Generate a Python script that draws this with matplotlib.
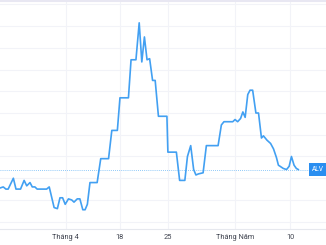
import matplotlib.pyplot as plt
import matplotlib.transforms as mtransforms
from matplotlib.lines import Line2D

# session position (0-100 across the chart) and price
t = [0, 1.0, 1.8, 2.5, 3.3, 4.1, 4.9, 6.3, 7.4, 8.2, 9.2, 9.9, 10.7, 11.4, 14.3, 15.1,
     16.6, 17.6, 18.4, 19.2, 20.0, 21.0, 22.0, 22.7, 23.7, 24.5, 25.4, 26.1, 26.8, 27.6,
     29.8, 30.9, 33.3, 34.3, 36.0, 36.8, 39.4, 40.2, 41.7, 42.7, 43.5, 44.3, 45.1, 45.9,
     46.8, 47.6, 48.6, 51.2, 51.5, 54.1, 55.1, 56.7, 57.5, 58.5, 59.4, 60.1, 60.9, 62.3,
     63.3, 66.9, 67.9, 68.7, 71.4, 72.1, 72.9, 73.8, 74.5, 75.2, 76.0, 76.7, 77.5, 78.5,
     79.3, 80.2, 80.8, 81.9, 83.0, 83.9, 84.8, 85.4, 86.9, 87.9, 88.7, 89.4, 90.2, 90.9, 91.5]
price = [3.31, 3.32, 3.30, 3.30, 3.35, 3.40, 3.30, 3.30, 3.38, 3.33, 3.36, 3.32, 3.32, 3.30, 3.30, 3.32,
         3.13, 3.12, 3.22, 3.22, 3.16, 3.21, 3.20, 3.18, 3.21, 3.21, 3.11, 3.11, 3.16, 3.36,
         3.36, 3.58, 3.58, 3.84, 3.84, 4.14, 4.14, 4.49, 4.49, 4.83, 4.47, 4.70, 4.49, 4.50,
         4.30, 4.30, 3.97, 3.97, 3.64, 3.64, 3.38, 3.38, 3.60, 3.70, 3.48, 3.43, 3.44, 3.45,
         3.70, 3.70, 3.89, 3.92, 3.92, 3.94, 3.92, 3.95, 4.01, 3.96, 4.17, 4.21, 4.21, 4.00,
         4.00, 3.77, 3.79, 3.75, 3.72, 3.67, 3.59, 3.52, 3.49, 3.48, 3.51, 3.60, 3.52, 3.49, 3.48]

tick_pos = [20.2, 36.8, 51.5, 72.1, 89.0]
tick_labels = ['Tháng 4', '18', '25', 'Tháng Năm', '10']
symbol = 'ALV'

plt.rcParams['font.family'] = ['Roboto', 'DejaVu Sans']

fig = plt.figure(figsize=(3.26, 2.45), dpi=100)
ax = fig.add_axes([0, 1 - 229.3 / 245, 1, 229.3 / 245])

ax.plot(t, price, color='#42a0f2', lw=1.2, solid_joinstyle='round', zorder=3)

last = price[-1]
ax.axhline(last, xmax=0.948, color='#6cb8f6', lw=0.6, ls=(0, (1, 1.5)), zorder=2)

ax.set_xlim(0, 100)
ax.set_ylim(2.93, 5.04)
ax.set_yticks([3.0 + 0.2 * i for i in range(11)])
ax.tick_params(axis='y', length=0, labelleft=False)
ax.set_xticks(tick_pos)
ax.set_xticklabels(tick_labels)
ax.tick_params(axis='x', length=0, pad=3.5, labelsize=5.3, labelcolor='#3f434f')
ax.grid(True, color='#f2f3f8', lw=0.8, zorder=0)
for s in ['top', 'left', 'right']:
    ax.spines[s].set_visible(False)
ax.spines['bottom'].set_color('#e6e8ee')
ax.spines['bottom'].set_linewidth(0.8)

trans = mtransforms.blended_transform_factory(ax.transAxes, ax.transData)
ax.text(0.974, last, symbol, transform=trans, ha='center', va='center',
        color='white', fontsize=4.8, zorder=5,
        bbox=dict(boxstyle='square,pad=0.4', fc='#2a8ef0', ec='none'))

fig.add_artist(Line2D([0, 1], [0.997, 0.997], transform=fig.transFigure,
                      color='#e8e7f2', lw=1.5))

fig.savefig('out.png', dpi=100)
